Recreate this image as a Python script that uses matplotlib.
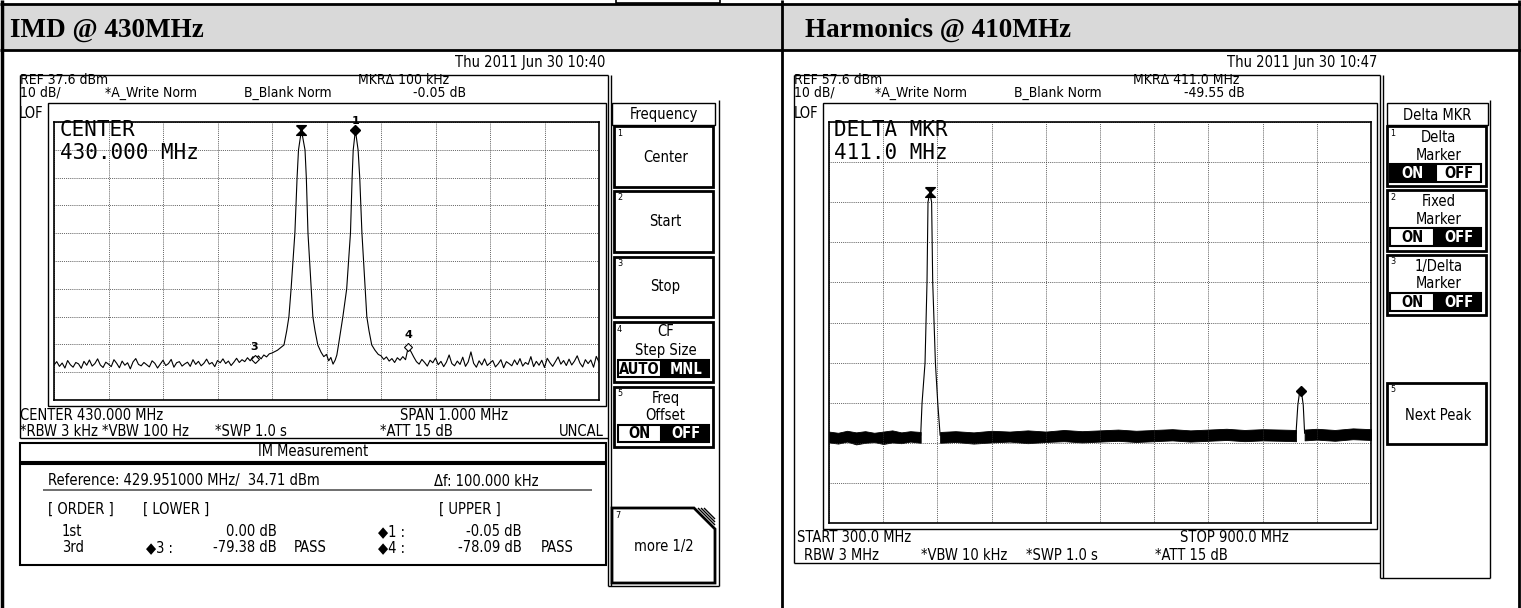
import numpy as np
import matplotlib
matplotlib.use("Agg")
import matplotlib.pyplot as plt
from matplotlib.patches import Rectangle, Polygon
from matplotlib.path import Path

W, H = 1521, 608

# ---- left screen: IMD @ 430 MHz (ref 37.6 dBm, 10 dB/div, span 429.5-430.5 MHz) ----
imd_ref = 37.6
imd_start, imd_stop = 429.5, 430.5

# noise floor left of the two tones, 5 kHz sweep steps from 429.500 MHz
imd_noise_l = [-49.8, -48.6, -50.3, -49.1, -50.9, -48.2, -49.7, -50.6, -48.9, -49.4,
               -51.0, -48.5, -49.9, -48.0, -50.2, -49.3, -47.6, -49.8, -50.7, -48.8,
               -49.5, -50.4, -47.9, -49.2, -50.8, -48.4, -49.9, -49.0, -51.2, -48.7,
               -47.5, -49.6, -50.1, -48.9, -49.7, -50.5, -48.3, -49.2, -50.9, -49.5,
               -48.1, -50.0, -49.3, -47.8, -50.6, -49.0, -48.6, -50.2, -49.4, -48.8,
               -50.3, -47.9, -49.6, -48.5, -50.1, -49.2, -47.7, -49.5, -48.9, -50.4,
               -48.2, -49.0, -47.6, -49.3, -48.4, -50.0, -48.8, -47.4, -48.9, -47.9,
               -48.6, -47.2, -48.3, -46.8, -47.9, -46.5, -47.6, -46.2, -46.9, -45.8]
imd_noise_l_f = 429.500 + 0.005 * np.arange(len(imd_noise_l))

# the two tones and the valley between them
imd_tone_f = [429.900, 429.910, 429.922, 429.927, 429.931, 429.935, 429.942,
              429.946, 429.9486, 429.954, 429.9606, 429.963, 429.966,
              429.972, 429.975, 429.979, 429.984, 429.990, 429.995,
              430.000, 430.004, 430.008, 430.012, 430.016, 430.019,
              430.022, 430.026, 430.030, 430.037, 430.044, 430.047, 430.049, 430.053,
              430.058, 430.061, 430.065, 430.071, 430.074, 430.078, 430.083, 430.089,
              430.095]
imd_tone_db = [-45.5, -44.5, -42.6, -37.5, -32.5, -22.5, -2.3,
               17.5, 27.5, 34.71, 27.5, 17.5, -2.3,
               -22.5, -32.5, -37.5, -42.6, -45.2, -46.8,
               -46.0, -48.3, -47.1, -49.5, -48.0, -46.2,
               -42.6, -37.5, -32.5, -22.5, -2.3, 17.5, 27.5, 34.66,
               27.5, 17.5, -2.3, -22.5, -32.5, -37.5, -42.6, -44.5,
               -46.0]

# noise floor right of the tones, from 430.100 MHz
imd_noise_r = [-46.5, -47.8, -46.9, -48.4, -47.5, -48.9, -47.2, -48.1, -46.8, -47.9,
               -43.4, -45.0, -46.9, -48.6, -49.5, -47.8, -48.9, -50.2, -48.1, -49.0,
               -47.3, -49.7, -48.5, -50.4, -48.8, -46.2, -49.3, -50.1, -48.4, -49.6,
               -47.0, -50.3, -48.7, -45.1, -49.2, -50.6, -48.3, -49.8, -47.6, -50.0,
               -49.1, -48.2, -50.5, -49.4, -47.9, -50.8, -48.6, -49.3, -50.1, -48.0,
               -49.7, -47.5, -50.2, -48.9, -49.6, -46.8, -50.4, -48.5, -49.9, -48.1,
               -50.7, -47.4, -49.0, -50.3, -48.6, -46.9, -49.5, -48.2, -50.0, -47.7,
               -49.8, -48.4, -46.5, -49.1, -50.5, -47.9, -49.3, -48.0, -50.6, -46.7, -48.8]
imd_noise_r_f = 430.100 + 0.005 * np.arange(len(imd_noise_r))

# markers: reference (hourglass), 1, 3, 4
imd_mkr_f = [429.954, 430.053, 429.868, 430.150]
imd_mkr_db = [34.71, 34.66, -47.5, -43.4]

# ---- right screen: Harmonics @ 410 MHz (ref 57.6 dBm, 10 dB/div, 300-900 MHz) ----
harm_ref = 57.6
harm_start, harm_stop = 300.0, 900.0

# noise band envelope (dense trace), three pieces between the peaks
band_a_f = [300, 310, 320, 330, 340, 350, 360, 370, 380, 390, 401.5]
band_a_hi = [-19.6, -19.9, -19.4, -19.8, -19.5, -19.9, -19.6, -19.3, -19.8, -19.5, -19.7]
band_a_lo = [-22.3, -22.6, -22.1, -22.8, -22.4, -22.2, -22.7, -22.3, -22.5, -22.1, -22.4]
band_b_f = [423, 440, 460, 480, 500, 520, 540, 560, 580, 600, 620,
            640, 660, 680, 700, 720, 740, 760, 780, 800, 817]
band_b_hi = [-19.7, -19.5, -19.8, -19.4, -19.6, -19.3, -19.6, -19.2, -19.5, -19.3, -19.1,
             -19.4, -19.2, -19.0, -19.3, -19.1, -18.9, -19.2, -19.0, -19.1, -19.2]
band_b_lo = [-22.4, -22.2, -22.6, -22.3, -22.1, -22.5, -22.2, -22.0, -22.3, -22.1, -21.9,
             -22.2, -22.0, -21.8, -22.1, -21.9, -21.7, -22.0, -21.8, -21.9, -22.0]
band_c_f = [826.5, 840, 860, 880, 900]
band_c_hi = [-19.1, -18.9, -19.2, -18.8, -19.0]
band_c_lo = [-21.8, -21.6, -21.9, -21.5, -21.7]

fund_f = [401.5, 403.0, 406.3, 408.5, 409.6, 411.5, 413.6, 414.8, 417.8, 420.4, 423.0]
fund_db = [-20.5, -12.5, -2.5, 17.7, 37.6, 40.1, 37.6, 17.7, -2.5, -12.5, -20.5]
h2_f = [817.0, 819.0, 820.5, 822.0, 823.5, 825.0, 826.5]
h2_db = [-20.0, -13.0, -10.5, -9.4, -10.5, -13.0, -20.0]
harm_mkr_f = [411.5, 822.0]
harm_mkr_db = [40.1, -9.4]

# IM measurement table
im_rows = ["1st", "3rd"]
im_lower = ["0.00 dB", "-79.38 dB"]
im_upper = ["-0.05 dB", "-78.09 dB"]

fig = plt.figure(figsize=(W / 100, H / 100), dpi=100)
bg = fig.add_axes([0, 0, 1, 1])
bg.set_xlim(0, W)
bg.set_ylim(H, 0)
bg.axis('off')

FONT = 'DejaVu Sans'


def line(x0, y0, x1, y1, lw=1.0, color='black'):
    bg.plot([x0, x1], [y0, y1], color=color, lw=lw, solid_capstyle='butt')


def box(x0, y0, x1, y1, lw=1.0, fc='none', ec='black'):
    bg.add_patch(Rectangle((x0, y0), x1 - x0, y1 - y0, lw=lw, fc=fc, ec=ec))


def txt(x, y, s, ha='left', size=10.5, color='black', **kw):
    bg.text(x, y, s, ha=ha, va='center', fontsize=size, color=color, family=FONT,
            fontstretch='condensed', **kw)


def big(x, y, s):
    bg.text(x, y, s, ha='left', va='center', fontsize=15, family='DejaVu Sans Mono')


def softkey(x0, y0, x1, y1, num, rows):
    box(x0, y0, x1, y1, lw=2)
    txt(x0 + 3, y0 + 7, num, size=6.5)
    for s, y in rows:
        txt((x0 + x1) / 2 + 2, y, s, ha='center')


def toggle(x0, xm, x1, y0, y1, labels, on):
    for i, (a, b) in enumerate([(x0, xm - 1), (xm + 1, x1)]):
        filled = i == on
        box(a, y0, b, y1, lw=1.5, fc='black' if filled else 'white')
        txt((a + b) / 2, (y0 + y1) / 2 + 0.5, labels[i], ha='center',
            color='white' if filled else 'black', weight='bold')


# ---- table frame and header band ----
box(2, 5, 1519, 50, lw=0, fc='#d9d9d9')
line(0, 4, W, 4, lw=2)
line(0, 50, W, 50, lw=2)
line(2, 0, 2, H, lw=2.5)
line(782, 0, 782, H, lw=2)
line(1519, 0, 1519, H, lw=2)
box(616, -3, 720, 3, lw=1.2)
bg.text(10, 30, "IMD @ 430MHz", family='Liberation Serif', weight='bold',
        fontsize=19.5, va='center')
bg.text(805, 30, "Harmonics @ 410MHz", family='Liberation Serif', weight='bold',
        fontsize=19.5, va='center')

# ---- left screen ----
txt(605, 63, "Thu 2011 Jun 30 10:40", ha='right')
line(20, 75, 608, 75)
line(20, 75, 20, 438)
line(20, 438, 608, 438)
txt(20, 80, "REF 37.6 dBm", size=10)
txt(358, 80, "MKR\u0394 100 kHz", size=10)
txt(20, 93, "10 dB/", size=10)
txt(105, 93, "*A_Write Norm", size=10)
txt(244, 93, "B_Blank Norm", size=10)
txt(413, 93, "-0.05 dB", size=10)
txt(19, 114, "LOF")
box(48, 103, 606, 406)
big(60, 130, "CENTER")
big(60, 153, "430.000 MHz")
txt(20, 416, "CENTER 430.000 MHz")
txt(400, 416, "SPAN 1.000 MHz")
txt(20, 432, "*RBW 3 kHz")
txt(102, 432, "*VBW 100 Hz")
txt(215, 432, "*SWP 1.0 s")
txt(380, 432, "*ATT 15 dB")
txt(604, 432, "UNCAL", ha='right')

box(20, 443, 606, 462, lw=1.5)
txt(313, 452, "IM Measurement", ha='center')
box(20, 464, 606, 565, lw=1.5)
txt(48, 481, "Reference: 429.951000 MHz/  34.71 dBm")
txt(434, 481, "\u0394f: 100.000 kHz")
line(43, 490, 592, 490, lw=1.2, color='#555555')
txt(48, 509, "[ ORDER ]")
txt(143, 509, "[ LOWER ]")
txt(439, 509, "[ UPPER ]")
for i, y in enumerate([532, 548]):
    txt(62, y, im_rows[i])
    txt(277, y, im_lower[i], ha='right')
    txt(522, y, im_upper[i], ha='right')
txt(378, 532, "\u25c61 :")
txt(146, 548, "\u25c63 :")
txt(294, 548, "PASS")
txt(378, 548, "\u25c64 :")
txt(541, 548, "PASS")

# left soft keys
line(608, 75, 608, 586, lw=1)
line(611, 75, 611, 586, lw=1)
line(608, 586, 719, 586, lw=1)
line(719, 100, 719, 586, lw=1)
box(612, 103, 715, 125, lw=1)
txt(663.5, 115, "Frequency", ha='center')
softkey(614, 126, 713, 187, "1", [("Center", 157)])
softkey(614, 191, 713, 252, "2", [("Start", 222)])
softkey(614, 257, 713, 317, "3", [("Stop", 287)])
softkey(614, 322, 713, 382, "4", [("CF", 332), ("Step Size", 350)])
toggle(618, 662, 709, 360, 377, ["AUTO", "MNL"], 1)
softkey(614, 387, 713, 447, "5", [("Freq", 398), ("Offset", 415)])
toggle(618, 662, 709, 425, 442, ["ON", "OFF"], 1)
bg.add_patch(Polygon([(612, 508), (694, 508), (715, 529), (715, 583), (612, 583)],
                     closed=True, fc='white', ec='black', lw=2))
for k in range(3):
    line(698 + 3 * k, 508, 715, 525 - 3 * k, lw=1)
txt(615, 515, "7", size=6.5)
txt(663.5, 546, "more 1/2", ha='center')

# ---- right screen ----
txt(1377, 63, "Thu 2011 Jun 30 10:47", ha='right')
line(794, 75, 1380, 75)
line(794, 75, 794, 563)
line(794, 563, 1380, 563)
txt(794, 80, "REF 57.6 dBm", size=10)
txt(1133, 80, "MKR\u0394 411.0 MHz", size=10)
txt(794, 93, "10 dB/", size=10)
txt(875, 93, "*A_Write Norm", size=10)
txt(1014, 93, "B_Blank Norm", size=10)
txt(1184, 93, "-49.55 dB", size=10)
txt(794, 114, "LOF")
box(823, 103, 1377, 529)
big(834, 130, "DELTA MKR")
big(834, 153, "411.0 MHz")
txt(797, 538, "START 300.0 MHz")
txt(1180, 538, "STOP 900.0 MHz")
txt(804, 555, "RBW 3 MHz")
txt(921, 555, "*VBW 10 kHz")
txt(1026, 555, "*SWP 1.0 s")
txt(1155, 555, "*ATT 15 dB")

line(1380, 75, 1380, 578, lw=1)
line(1383, 75, 1383, 578, lw=1)
line(1380, 578, 1490, 578, lw=1)
line(1490, 100, 1490, 578, lw=1)
box(1387, 103, 1488, 125, lw=1)
txt(1437.5, 116, "Delta MKR", ha='center')
softkey(1387, 126, 1486, 186, "1", [("Delta", 137), ("Marker", 155)])
toggle(1390, 1435, 1481, 164, 182, ["ON", "OFF"], 0)
softkey(1387, 190, 1486, 251, "2", [("Fixed", 201), ("Marker", 219)])
toggle(1390, 1435, 1481, 228, 246, ["ON", "OFF"], 1)
softkey(1387, 255, 1486, 315, "3", [("1/Delta", 267), ("Marker", 284)])
toggle(1390, 1435, 1481, 293, 311, ["ON", "OFF"], 1)
softkey(1387, 383, 1486, 444, "5", [("Next Peak", 415)])


# ---- trace axes ----
def px_axes(x0, y0, x1, y1):
    a = fig.add_axes([x0 / W, 1 - y1 / H, (x1 - x0) / W, (y1 - y0) / H])
    a.patch.set_visible(False)
    a.tick_params(length=0, labelbottom=False, labelleft=False)
    for s in a.spines.values():
        s.set_linewidth(1.2)
    a.grid(True, color='#333333', lw=0.6, ls=(0, (1, 1.3)))
    return a


hourglass = Path([(-1, 1), (1, 1), (-1, -1), (1, -1), (-1, 1)])

ax1 = px_axes(54, 122, 599, 400)
ax1.set_xlim(imd_start, imd_stop)
ax1.set_ylim(imd_ref - 100, imd_ref)
ax1.set_xticks(np.linspace(imd_start, imd_stop, 11))
ax1.set_yticks(np.linspace(imd_ref - 100, imd_ref, 11))
trace_f = np.concatenate([imd_noise_l_f, imd_tone_f, imd_noise_r_f])
trace_db = np.concatenate([imd_noise_l, imd_tone_db, imd_noise_r])
ax1.plot(trace_f, trace_db, color='black', lw=0.8)
ax1.plot(imd_mkr_f[0], imd_mkr_db[0], marker=hourglass, ms=7, color='black')
ax1.plot(imd_mkr_f[1], imd_mkr_db[1], marker='D', ms=5, color='black')
ax1.plot(imd_mkr_f[2:], imd_mkr_db[2:], ls='none', marker='D', ms=4.5,
         mfc='white', mec='black', mew=0.8)
for f, d, lab, dy in [(imd_mkr_f[1], imd_mkr_db[1], "1", 3),
                      (imd_mkr_f[2], imd_mkr_db[2], "3", 5),
                      (imd_mkr_f[3], imd_mkr_db[3], "4", 5)]:
    ax1.annotate(lab, (f, d), xytext=(0, dy), textcoords='offset points',
                 ha='center', va='bottom', fontsize=8, family=FONT, weight='bold')

ax2 = px_axes(829, 122, 1371, 523)
ax2.set_xlim(harm_start, harm_stop)
ax2.set_ylim(harm_ref - 100, harm_ref)
ax2.set_xticks(np.linspace(harm_start, harm_stop, 11))
ax2.set_yticks(np.linspace(harm_ref - 100, harm_ref, 11))
for bf, hi, lo in [(band_a_f, band_a_hi, band_a_lo),
                   (band_b_f, band_b_hi, band_b_lo),
                   (band_c_f, band_c_hi, band_c_lo)]:
    ax2.fill_between(bf, lo, hi, color='black', lw=0.6)
ax2.plot(fund_f, fund_db, color='black', lw=0.8)
ax2.plot(h2_f, h2_db, color='black', lw=0.8)
ax2.plot(harm_mkr_f[0], harm_mkr_db[0], marker=hourglass, ms=7, color='black')
ax2.plot(harm_mkr_f[1], harm_mkr_db[1], marker='D', ms=5, color='black')

fig.savefig("out.png", dpi=100)
